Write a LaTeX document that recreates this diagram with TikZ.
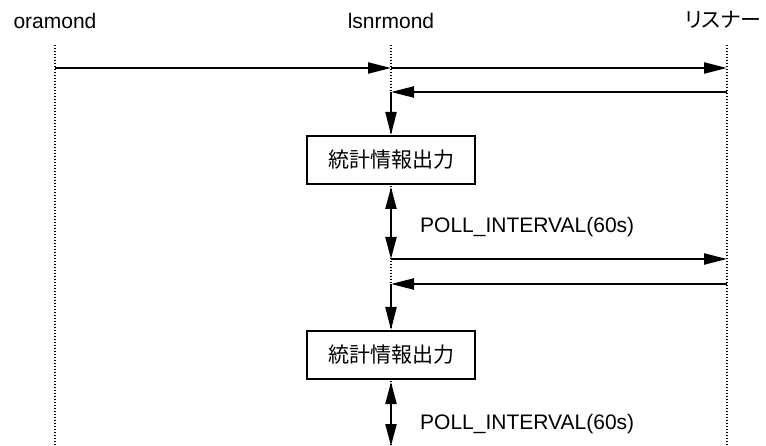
\documentclass[tikz,border=0pt]{standalone}
\usepackage{fontspec}
\setmainfont{Liberation Sans}
\newfontfamily\jp{Noto Sans CJK JP}
\newfontfamily\jpp[RawFeature=+palt]{Noto Sans CJK JP}
\usetikzlibrary{arrows.meta}
\begin{document}
\begin{tikzpicture}[x=1pt,y=-1pt,
  lifeline/.style={line width=1.3pt, dash pattern=on 1.3pt off 1.7pt},
  msg/.style={line width=2.2pt, -{Triangle[length=23pt,width=11pt]}},
  dmsg/.style={line width=2.2pt, {Triangle[length=22pt,width=11pt]}-{Triangle[length=22pt,width=11pt]}},
  lbl/.style={font=\fontsize{21}{25}\selectfont, inner sep=0pt},
  procbox/.style={draw, line width=2pt, fill=white, minimum width=168pt, minimum height=48pt, inner sep=0pt, font=\fontsize{21}{25}\selectfont\jp}
]
\useasboundingbox (0,0) rectangle (766,446);
\fill[white] (0,0) rectangle (766,446);
% headers
\node[lbl, anchor=base] (hora) at (55,29) {oramond};
\node[lbl, anchor=base] (hlsn) at (391,29) {lsnrmond};
\node[lbl, anchor=base, font=\fontsize{21}{25}\selectfont\jpp] (hlis) at (723,28) {リスナー};
% lifelines
\coordinate (ot) at (55,45);  \coordinate (ob) at (55,446);
\coordinate (lt) at (391,45); \coordinate (lb) at (391,446);
\coordinate (rt) at (727,45); \coordinate (rb) at (727,446);
\draw[lifeline] (ot) -- (ob);
\draw[lifeline] (lt) -- (lb);
\draw[lifeline] (rt) -- (rb);
% boxes
\node[procbox] (b1) at (391,160) {統計情報出力};
\node[procbox] (b2) at (391,355) {統計情報出力};
% coordinates
\coordinate (o1) at (55,68);
\coordinate (l1) at (391,68);
\coordinate (r1) at (727,68);
\coordinate (r2) at (727,92);
\coordinate (l2) at (391,92);
\coordinate (l3) at (391,259);
\coordinate (r3) at (727,259);
\coordinate (r4) at (727,284);
\coordinate (l4) at (391,284);
\coordinate (l5) at (391,446);
% messages
\draw[msg] (o1) -- (l1);
\draw[msg] (l1) -- (r1);
\draw[msg] (r2) -- (l2);
\draw[msg] (l2) -- (b1.north);
\draw[dmsg] ([yshift=-2pt]b1.south) -- (l3);
\draw[msg] (l3) -- (r3);
\draw[msg] (r4) -- (l4);
\draw[msg] (l4) -- (b2.north);
\draw[dmsg] ([yshift=-2pt]b2.south) -- (l5);
% interval labels
\node[lbl, anchor=base west] (p1) at (420,233) {POLL\_INTERVAL(60s)};
\node[lbl, anchor=base west] (p2) at (420,429) {POLL\_INTERVAL(60s)};
\end{tikzpicture}
\end{document}
